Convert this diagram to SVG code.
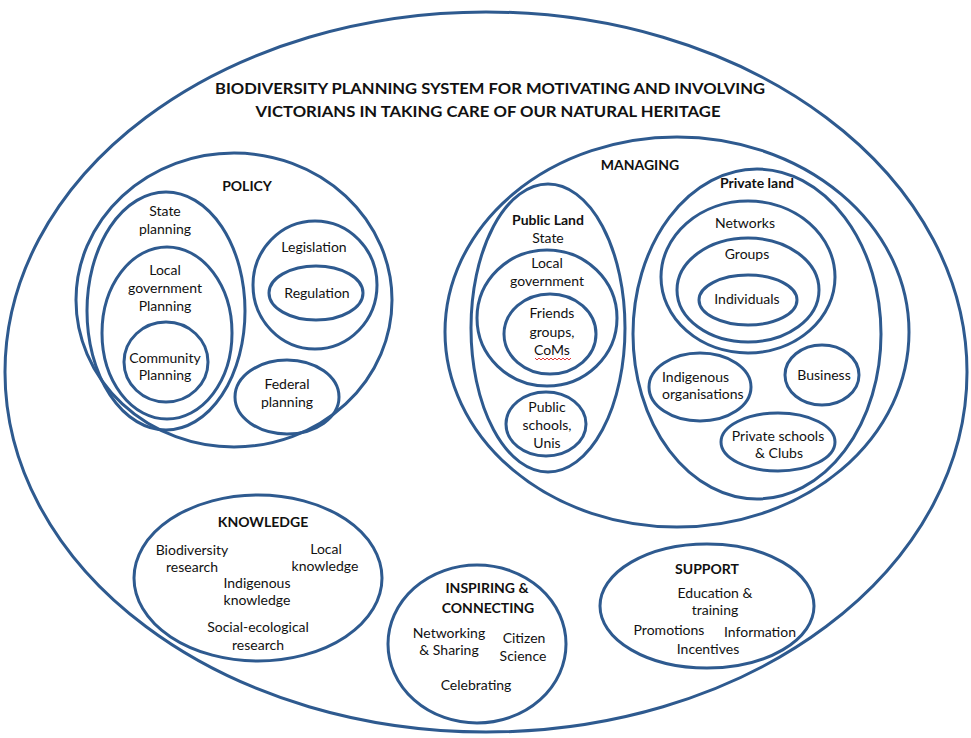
<svg xmlns="http://www.w3.org/2000/svg" width="971" height="738" viewBox="0 0 971 738">
<style>
.e{fill:none;stroke:#2E5A8F;stroke-width:3}
text{font-family:Lato,"Open Sans","Liberation Sans",sans-serif;font-size:14px;fill:#111;text-anchor:middle}
.b{font-weight:bold}
.t{font-weight:bold;font-size:16px}
</style>
<rect width="971" height="738" fill="#fff"/>
<g id="system">
<ellipse class="e" cx="486" cy="372" rx="481" ry="360"/>
<text class="t" x="490" y="94" textLength="550" lengthAdjust="spacingAndGlyphs">BIODIVERSITY PLANNING SYSTEM FOR MOTIVATING AND INVOLVING</text>
<text class="t" x="488" y="117" textLength="465" lengthAdjust="spacingAndGlyphs">VICTORIANS IN TAKING CARE OF OUR NATURAL HERITAGE</text>
</g>
<g id="policy">
<ellipse class="e" cx="234" cy="300" rx="158" ry="147"/>
<text class="b" x="247" y="191">POLICY</text>
</g>
<g id="state-planning">
<ellipse class="e" cx="166" cy="311" rx="79" ry="119"/>
<text x="165" y="216">State</text><text x="165" y="234">planning</text>
</g>
<g id="local-gov-planning">
<ellipse class="e" cx="167" cy="333" rx="65" ry="86"/>
<text x="165" y="275">Local</text><text x="165" y="293">government</text><text x="165" y="311">Planning</text>
</g>
<g id="community-planning">
<ellipse class="e" cx="166" cy="362" rx="42" ry="40"/>
<text x="165" y="363">Community</text><text x="165" y="380">Planning</text>
</g>
<g id="legislation">
<ellipse class="e" cx="315" cy="285" rx="62" ry="64"/>
<text x="314" y="252">Legislation</text>
</g>
<g id="regulation">
<ellipse class="e" cx="316" cy="293" rx="47" ry="27"/>
<text x="317" y="298">Regulation</text>
</g>
<g id="federal-planning">
<ellipse class="e" cx="287" cy="397" rx="52" ry="37"/>
<text x="287" y="389">Federal</text><text x="287" y="407">planning</text>
</g>
<g id="managing">
<ellipse class="e" cx="677" cy="332" rx="232" ry="195"/>
<text class="b" x="640" y="170">MANAGING</text>
</g>
<g id="public-land">
<ellipse class="e" cx="548" cy="328" rx="77" ry="144"/>
<text class="b" x="548" y="225">Public Land</text><text x="548" y="243">State</text>
</g>
<g id="local-government">
<ellipse class="e" cx="547" cy="318" rx="70" ry="68"/>
<text x="547" y="268">Local</text><text x="547" y="286">government</text>
</g>
<g id="friends-groups">
<ellipse class="e" cx="550" cy="334" rx="46" ry="40"/>
<text x="552" y="318">Friends</text><text x="552" y="337">groups,</text><text x="552" y="355">CoMs</text>
<path d="M535 358 l2 2 l2 -2 l2 2 l2 -2 l2 2 l2 -2 l2 2 l2 -2 l2 2 l2 -2 l2 2 l2 -2 l2 2 l2 -2 l2 2 l2 -2 l2 2 l2 -2" fill="none" stroke="#E02020" stroke-width="0.9"/>
</g>
<g id="public-schools">
<ellipse class="e" cx="546" cy="424" rx="40" ry="32"/>
<text x="547" y="412">Public</text><text x="547" y="430">schools,</text><text x="547" y="448">Unis</text>
</g>
<g id="private-land">
<ellipse class="e" cx="757" cy="334" rx="124" ry="165"/>
<text class="b" x="757" y="188">Private land</text>
</g>
<g id="networks">
<ellipse class="e" cx="748" cy="277" rx="87" ry="76"/>
<text x="745" y="228">Networks</text>
</g>
<g id="groups">
<ellipse class="e" cx="748" cy="290" rx="71" ry="52"/>
<text x="747" y="259">Groups</text>
</g>
<g id="individuals">
<ellipse class="e" cx="748" cy="300" rx="49" ry="25"/>
<text x="747" y="304">Individuals</text>
</g>
<g id="indigenous-organisations">
<ellipse class="e" cx="700" cy="387" rx="51" ry="34"/>
<text x="662" y="382" style="text-anchor:start">Indigenous</text><text x="662" y="399" style="text-anchor:start">organisations</text>
</g>
<g id="business">
<ellipse class="e" cx="822" cy="375" rx="37" ry="30"/>
<text x="824" y="380">Business</text>
</g>
<g id="private-schools">
<ellipse class="e" cx="778" cy="442" rx="57" ry="29"/>
<text x="778" y="441">Private schools</text><text x="779" y="458">&amp; Clubs</text>
</g>
<g id="knowledge">
<ellipse class="e" cx="258" cy="578" rx="124" ry="83"/>
<text class="b" x="263" y="527">KNOWLEDGE</text>
<text x="192" y="555">Biodiversity</text><text x="192" y="572">research</text>
<text x="326" y="554">Local</text><text x="325" y="571">knowledge</text>
<text x="257" y="588">Indigenous</text><text x="257" y="605">knowledge</text>
<text x="258" y="632">Social-ecological</text><text x="258" y="650">research</text>
</g>
<g id="inspiring-connecting">
<ellipse class="e" cx="477" cy="644" rx="89" ry="79"/>
<text class="b" x="487" y="593">INSPIRING &amp;</text><text class="b" x="488" y="613">CONNECTING</text>
<text x="449" y="638">Networking</text><text x="449" y="655">&amp; Sharing</text>
<text x="524" y="643">Citizen</text><text x="523" y="661">Science</text>
<text x="476" y="690">Celebrating</text>
</g>
<g id="support">
<ellipse class="e" cx="707" cy="606" rx="107" ry="62"/>
<text class="b" x="707" y="574">SUPPORT</text>
<text x="715" y="598">Education &amp;</text><text x="715" y="615">training</text>
<text x="669" y="635">Promotions</text>
<text x="760" y="637">Information</text>
<text x="708" y="654">Incentives</text>
</g>
<g id="connectors"></g>
</svg>
